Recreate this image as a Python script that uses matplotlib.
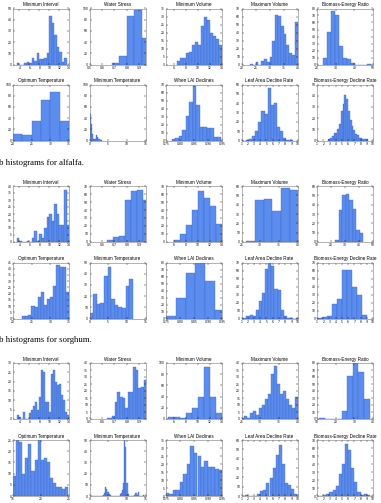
import numpy as np
import matplotlib
matplotlib.use("Agg")
import matplotlib.pyplot as plt

# Panel titles (same for every crop group) ######
titles = ["Minimum Interval", "Water Stress", "Minimum Volume", "Maximum Volume",
          "Biomass-Energy Ratio", "Optimum Temperature", "Minimum Temperature",
          "When LAI Declines", "Leaf Area Decline Rate", "Biomass-Energy Decline Rate"]
captions = ["b histograms for alfalfa.", "b histograms for sorghum."]

# Group 1 : bin start, bin width, counts #########
g1_mi  = (3.5, 0.5, [1, 0, 0, 1, 2, 1, 6, 3, 10, 5, 5, 6, 10, 43, 37, 26, 16, 11, 2, 6])
g1_ws  = (0.68, 0.06, [2, 16, 87, 97, 48])
g1_mnv = (6.5, 0.5, [2, 4, 4, 7, 8, 12, 14, 12, 24, 30, 28, 20, 18, 16, 12, 11, 6, 6, 1, 1])
g1_mxv = (23, 1, [1, 0, 3, 0, 5, 7, 3, 9, 30, 62, 61, 48, 38, 25, 14, 12, 53])
g1_ber = (23.2, 2.15, [9, 47, 76, 71, 27, 10, 8, 2, 0, 0, 0, 1])
g1_opt = (20, 2.5, [12, 9, 35, 72, 87, 35])
g1_mnt = (0, 0.3, [48, 30, 12, 3, 3, 2, 9, 7, 2, 1, 1])
g1_lai = (0.77, 0.0125, [2, 3, 6, 13, 31, 48, 68, 45, 17, 17, 16, 16, 4, 4])
g1_lad = (0.7, 0.5, [1, 0, 1, 2, 5, 10, 20, 32, 28, 56, 38, 40, 14, 10, 3, 1, 1])
g1_bed = (2.8, 0.29, [1, 2, 4, 7, 7, 10, 15, 26, 33, 41, 37, 26, 18, 13, 9, 6, 5, 2, 2, 1, 1, 1])

# Group 2 #######################################
g2_mi  = (3.5, 0.5, [3, 1, 0, 0, 1, 0, 3, 8, 1, 6, 3, 10, 18, 20, 15, 27, 20, 12, 12, 37, 12])
g2_ws  = (0.64, 0.048, [2, 6, 8, 53, 64, 65, 52])
g2_mnv = (6, 1, [2, 10, 21, 40, 64, 55, 45, 22, 10, 11])
g2_mxv = (26.3, 2.33, [1, 45, 46, 33, 58, 56])
g2_ber = (23.2, 2.5, [2, 34, 50, 51, 45, 35, 13, 10])
g2_opt = (22.4, 0.84, [2, 2, 3, 10, 9, 17, 21, 11, 16, 17, 26, 43, 41, 41, 21])
g2_mnt = (0, 0.97, [5, 22, 13, 14, 38, 46, 17, 12, 10, 9, 29, 35])
g2_lai = (0.75, 0.035, [3, 29, 65, 80, 53, 12])
g2_lad = (0.8, 0.5, [1, 1, 3, 5, 3, 11, 22, 32, 62, 70, 66, 37, 36, 11, 3, 1, 1, 0, 1])
g2_bed = (1.0, 0.8, [1, 2, 3, 18, 24, 61, 61, 40, 30, 5])

# Group 3 #######################################
g3_mi  = (3.5, 0.4, [2, 1, 0, 4, 0, 0, 3, 5, 7, 9, 5, 12, 26, 25, 9, 9, 4, 24, 26, 20, 18, 19, 13, 10, 4, 2, 1])
g3_ws  = (0.64, 0.021, [1, 1, 2, 12, 19, 16, 15, 8, 19, 19, 37, 35, 22, 23, 28])
g3_mnv = (5, 1, [3, 3, 2, 10, 20, 40, 92, 40, 10, 2])
g3_mxv = (25, 0.8, [1, 2, 1, 4, 6, 3, 8, 10, 14, 18, 32, 38, 25, 18, 20, 14, 10, 8, 16])
g3_ber = (11.2, 3, [2, 0, 0, 0, 12, 62, 80, 67, 28])
g3_opt = (15, 0.55, [9, 25, 24, 10, 17, 23, 11, 16, 25, 16, 17, 15, 8, 6, 4, 4, 3, 4])
g3_mnt = (0, 0.3, [0, 0, 0, 0, 0, 0, 0, 0, 0, 0, 0, 0, 1, 3, 8, 6, 4, 2, 1, 0, 0, 0, 0, 0,
                   0, 0, 0, 2, 3, 5, 12, 50, 44, 12, 2, 0, 0, 0, 0, 0, 1, 3, 1, 4, 0, 0, 0, 0, 1])
g3_lai = (0.75, 0.0125, [2, 1, 4, 4, 9, 14, 20, 31, 27, 25, 18, 22, 18, 18, 17, 16, 3])
g3_lad = (1, 0.5, [0, 1, 0, 0, 0, 2, 5, 6, 14, 19, 30, 44, 55, 34, 14, 12, 7, 2, 1, 0])
g3_bed = (1, 0.5, [0, 0, 1, 2, 5, 8, 12, 28, 40, 65, 57, 35, 18, 5, 1, 2, 1])

# Axis limits and ticks per panel ###############
xlims = [(2.7, 14), (0.5, 0.95), (4.7, 14), (20, 40), (20, 50),
         (20, 35), (0, 15), (0.75, 0.95), (1, 10), (1, 10)]
xticks = [[4, 6, 8, 10, 12, 14], [0.5, 0.6, 0.7, 0.8, 0.9], [6, 8, 10, 12, 14],
          [20, 25, 30, 35, 40], [20, 30, 40, 50], [20, 25, 30, 35], [0, 5, 10, 15],
          [0.75, 0.8, 0.85, 0.9, 0.95], list(range(1, 11)), list(range(1, 11))]
# panels whose x axis differs from the default: (group, panel) -> (xlim, xticks)
x_override = {(1, 3): ((25, 40), [25, 30, 35, 40]),
              (1, 4): ((10, 50), [10, 20, 30, 40, 50]),
              (2, 3): ((25, 40), [25, 30, 35, 40]),
              (2, 4): ((10, 40), [10, 20, 30, 40]),
              (2, 5): ((15, 25), [15, 20, 25])}
g1_ymax = [50, 100, 35, 70, 80, 100, 100, 70, 60, 50]
g2_ymax = [40, 70, 70, 60, 60, 45, 50, 80, 70, 70]
g3_ymax = [30, 40, 100, 40, 80, 25, 50, 35, 60, 70]
ystep = {100: 20, 80: 10, 70: 10, 60: 10, 50: 10, 45: 5, 40: 5, 35: 5, 30: 5, 25: 5}

groups = [[g1_mi, g1_ws, g1_mnv, g1_mxv, g1_ber, g1_opt, g1_mnt, g1_lai, g1_lad, g1_bed],
          [g2_mi, g2_ws, g2_mnv, g2_mxv, g2_ber, g2_opt, g2_mnt, g2_lai, g2_lad, g2_bed],
          [g3_mi, g3_ws, g3_mnv, g3_mxv, g3_ber, g3_opt, g3_mnt, g3_lai, g3_lad, g3_bed]]
ymaxes = [g1_ymax, g2_ymax, g3_ymax]

W, H = 381, 503
fig = plt.figure(figsize=(W / 100, H / 100), dpi=100)
lefts = [13, 89.5, 166, 241.5, 317]
tops = [8.5, 84.5, 186, 262.5, 363, 440]
aw, ah = 56, 56

for g, panels in enumerate(groups):
    for k, (start, step, counts) in enumerate(panels):
        top = tops[2 * g + k // 5]
        left = lefts[k % 5]
        ax = fig.add_axes([left / W, 1 - (top + ah) / H, aw / W, ah / H])
        edges = start + step * np.arange(len(counts))
        ax.bar(edges, counts, width=step, align="edge", color="#5b8def",
               edgecolor="#3c62bd", linewidth=0.25)
        xl, xt = x_override.get((g, k), (xlims[k], xticks[k]))
        ax.set_xlim(*xl)
        ax.set_xticks(xt)
        ym = ymaxes[g][k]
        ax.set_ylim(0, ym)
        ax.set_yticks(np.arange(0, ym + 1, ystep[ym]))
        ax.set_title(titles[k], fontsize=3.3, pad=1.5, family="Liberation Sans")
        ax.tick_params(labelsize=2.2, length=1.2, width=0.3, pad=1, direction="in",
                       top=True, right=True)
        for s in ax.spines.values():
            s.set_linewidth(0.4)
            s.set_color("#777777")

for i, cap in enumerate(captions):
    fig.text(-0.003, 1 - (163 + 177.5 * i) / H, cap, fontsize=6.3, family="Liberation Serif",
             va="center", ha="left")

fig.savefig("out.png", dpi=100)
